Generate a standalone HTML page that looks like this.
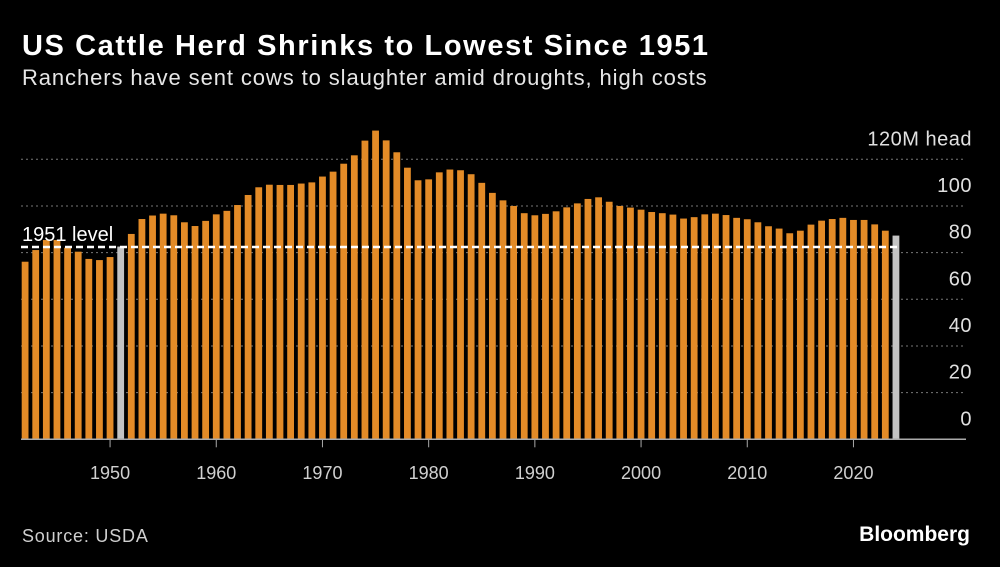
<!DOCTYPE html>
<html><head><meta charset="utf-8"><style>
html,body{margin:0;padding:0;background:#000;}
body{width:1000px;height:567px;overflow:hidden;position:relative;font-family:"Liberation Sans",sans-serif;color:#fff;}
.t{position:absolute;white-space:nowrap;}
</style></head><body>
<div class="t" style="left:22px;top:30px;font-size:29px;font-weight:bold;letter-spacing:1.6px;">US Cattle Herd Shrinks to Lowest Since 1951</div>
<div class="t" style="left:22px;top:65px;font-size:22px;letter-spacing:0.9px;color:#e6e6e6;">Ranchers have sent cows to slaughter amid droughts, high costs</div>
<svg id="chart" width="1000" height="567" style="position:absolute;left:0;top:0;"></svg>
<div class="t" style="left:22px;top:526px;font-size:18px;letter-spacing:0.8px;color:#cfcfcf;">Source: USDA</div>
<div class="t" style="right:30px;top:523px;font-size:21px;font-weight:bold;">Bloomberg</div>
<script>
const years=[];for(let y=1942;y<=2024;y++)years.push(y);
const values=[76.1,81.1,85.4,85.4,82.1,80.4,77.3,76.8,78.1,82.6,88.0,94.4,95.9,96.7,96.0,93.0,91.4,93.6,96.4,97.9,100.4,104.7,108.0,109.1,109.0,109.0,109.6,110.1,112.6,114.7,118.1,121.7,128.0,132.3,128.1,123.0,116.4,111.0,111.4,114.4,115.6,115.3,113.6,109.9,105.6,102.4,100.0,96.9,96.0,96.6,97.7,99.4,101.1,103.0,103.7,101.8,100.0,99.3,98.4,97.4,96.9,96.3,94.6,95.2,96.4,96.7,96.1,94.9,94.3,93.0,91.3,90.3,88.3,89.4,92.0,93.7,94.4,94.9,94.0,94.0,92.1,89.4,87.3];
const yTicks=[0,20,40,60,80,100,120];
const yTickLabels=["0","20","40","60","80","100","120M head"];
const xTicks=[1950,1960,1970,1980,1990,2000,2010,2020];
const level1951=82.4;
const NS="http://www.w3.org/2000/svg";
const svg=document.getElementById('chart');
const y0=439.3,pxPerUnit=46.67/20;
const yS=v=>y0-v*pxPerUnit;
const x0=21.7,step=10.62,bw=6.8;
const xS=yr=>x0+(yr-1942)*step;
function mk(tag,a){const e=document.createElementNS(NS,tag);for(const k in a)e.setAttribute(k,a[k]);svg.appendChild(e);return e;}
yTicks.forEach((t,i)=>{
  if(t>0){const g=mk('line',{x1:21,x2:966,y1:yS(t),y2:yS(t),stroke:'#777','stroke-width':1,'stroke-dasharray':'2,3'});
  
  }
  const tx=mk('text',{x:972,y:yS(t)-14,'text-anchor':'end','font-size':20,'letter-spacing':'0.5',fill:'#e0e0e0','font-family':'Liberation Sans, sans-serif'});
  tx.textContent=yTickLabels[i];
  
  
});
years.forEach((yr,i)=>{
  const r=mk('rect',{x:xS(yr),y:yS(values[i]),width:bw,height:y0-yS(values[i]),fill:(yr===1951||yr===2024)?'#c3c3c3':'#e38b27'});
  
  
});
const ax=mk('line',{x1:21,x2:966,y1:y0,y2:y0,stroke:'#aaa','stroke-width':1.5});


xTicks.forEach(t=>{
  const cx=xS(t)+bw/2;
  const l=mk('line',{x1:cx,x2:cx,y1:y0,y2:y0+8,stroke:'#aaa','stroke-width':1});
  
  
  const tx=mk('text',{x:cx,y:479,'text-anchor':'middle','font-size':18,fill:'#d0d0d0','font-family':'Liberation Sans, sans-serif'});
  tx.textContent=t;
  
  
});
const dl=mk('line',{x1:21,x2:xS(2024)+bw,y1:yS(level1951),y2:yS(level1951),stroke:'#fff','stroke-width':2.5,'stroke-dasharray':'7,4'});


const lt=mk('text',{x:22,y:yS(level1951)-6,'font-size':20,fill:'#fff','font-family':'Liberation Sans, sans-serif'});
lt.textContent='1951 level';


</script>
</body></html>
